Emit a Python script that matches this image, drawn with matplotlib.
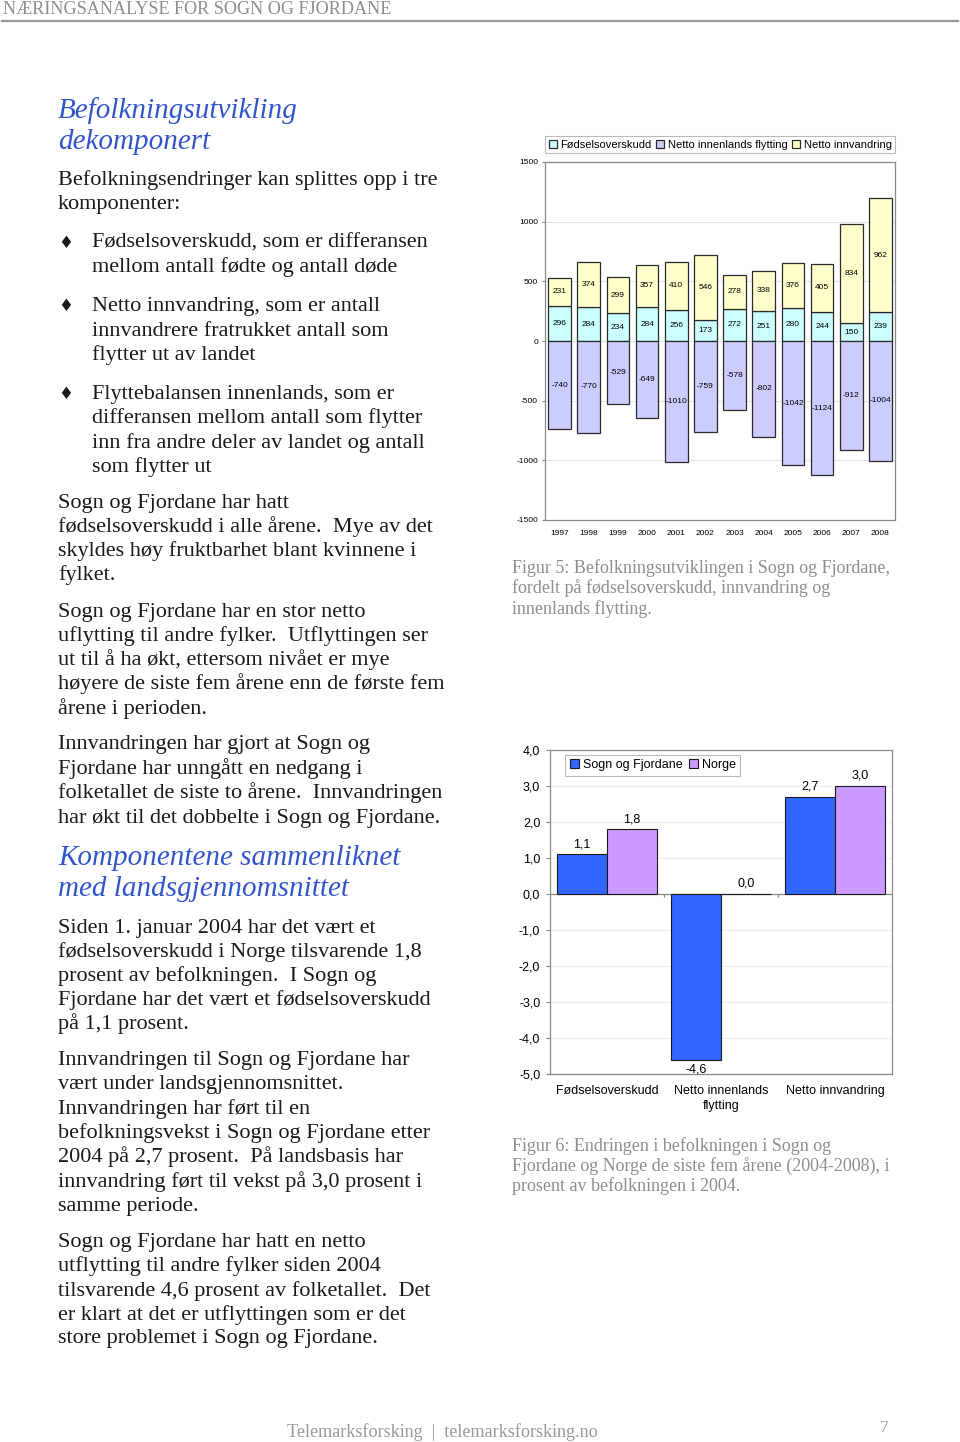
import numpy as np
import matplotlib
matplotlib.use("Agg")
import matplotlib.pyplot as plt

plt.rcParams["font.family"] = ["Liberation Sans", "DejaVu Sans"]

# Figur 5 data
years = ["1997", "1998", "1999", "2000", "2001", "2002",
         "2003", "2004", "2005", "2006", "2007", "2008"]
fodsel = [296, 284, 234, 284, 256, 173, 272, 251, 280, 244, 150, 239]
innvandring = [231, 374, 299, 357, 410, 546, 278, 338, 376, 405, 834, 962]
innenlands = [-740, -770, -529, -649, -1010, -759, -578, -802, -1042, -1124, -912, -1004]

# Figur 6 data
komponenter = ["Fødselsoverskudd", "Netto innenlands\nflytting", "Netto innvandring"]
sogn = [1.1, -4.6, 2.7]
norge = [1.8, 0.0, 3.0]

W, H = 960, 1442
fig = plt.figure(figsize=(W / 100, H / 100), dpi=100)


def fx(x):
    return x / W


def fy(y):
    return 1 - y / H


# ---------- page text ----------
serif = ["Liberation Serif", "DejaVu Serif"]
blue = "#3355cc"
grey = "#8e8e8e"

fig.text(fx(3), fy(9), "NÆRINGSANALYSE FOR SOGN OG FJORDANE", family=serif,
         fontsize=13.1, color=grey, va="center")
fig.add_artist(plt.Line2D([fx(2), fx(958)], [fy(21), fy(21)], color="#9a9a9a", lw=1.6))

left_lines = [
    (108, "Befolkningsutvikling", "h"),
    (139, "dekomponert", "h"),
    (178, "Befolkningsendringer kan splittes opp i tre", "p"),
    (203, "komponenter:", "p"),
    (241, "Fødselsoverskudd, som er differansen", "b"),
    (265, "mellom antall fødte og antall døde", "c"),
    (304, "Netto innvandring, som er antall", "b"),
    (329, "innvandrere fratrukket antall som", "c"),
    (353, "flytter ut av landet", "c"),
    (392, "Flyttebalansen innenlands, som er", "b"),
    (416, "differansen mellom antall som flytter", "c"),
    (441, "inn fra andre deler av landet og antall", "c"),
    (465, "som flytter ut", "c"),
    (501, "Sogn og Fjordane har hatt", "p"),
    (525, "fødselsoverskudd i alle årene.  Mye av det", "p"),
    (549, "skyldes høy fruktbarhet blant kvinnene i", "p"),
    (573, "fylket.", "p"),
    (610, "Sogn og Fjordane har en stor netto", "p"),
    (634, "uflytting til andre fylker.  Utflyttingen ser", "p"),
    (658, "ut til å ha økt, ettersom nivået er mye", "p"),
    (682, "høyere de siste fem årene enn de første fem", "p"),
    (707, "årene i perioden.", "p"),
    (743, "Innvandringen har gjort at Sogn og", "p"),
    (767, "Fjordane har unngått en nedgang i", "p"),
    (791, "folketallet de siste to årene.  Innvandringen", "p"),
    (816, "har økt til det dobbelte i Sogn og Fjordane.", "p"),
    (855, "Komponentene sammenliknet", "h"),
    (886, "med landsgjennomsnittet", "h"),
    (926, "Siden 1. januar 2004 har det vært et", "p"),
    (950, "fødselsoverskudd i Norge tilsvarende 1,8", "p"),
    (974, "prosent av befolkningen.  I Sogn og", "p"),
    (998, "Fjordane har det vært et fødselsoverskudd", "p"),
    (1022, "på 1,1 prosent.", "p"),
    (1059, "Innvandringen til Sogn og Fjordane har", "p"),
    (1083, "vært under landsgjennomsnittet.", "p"),
    (1107, "Innvandringen har ført til en", "p"),
    (1131, "befolkningsvekst i Sogn og Fjordane etter", "p"),
    (1155, "2004 på 2,7 prosent.  På landsbasis har", "p"),
    (1180, "innvandring ført til vekst på 3,0 prosent i", "p"),
    (1204, "samme periode.", "p"),
    (1240, "Sogn og Fjordane har hatt en netto", "p"),
    (1264, "utflytting til andre fylker siden 2004", "p"),
    (1289, "tilsvarende 4,6 prosent av folketallet.  Det", "p"),
    (1313, "er klart at det er utflyttingen som er det", "p"),
    (1337, "store problemet i Sogn og Fjordane.", "p"),
]

for y, txt, kind in left_lines:
    y = y + 2
    if kind == "h":
        fig.text(fx(58), fy(y + 1), txt, family=serif, style="italic", fontsize=21,
                 color=blue, va="center")
    elif kind == "p":
        fig.text(fx(58), fy(y), txt, family=serif, fontsize=16, color="#1a1a1a",
                 va="center")
    else:
        if kind == "b":
            fig.text(fx(66), fy(y), "\u2666", family=["DejaVu Sans"], fontsize=12,
                     color="#1a1a1a", va="center", ha="center")
        fig.text(fx(92), fy(y), txt, family=serif, fontsize=16, color="#1a1a1a",
                 va="center")

cap5 = ["Figur 5: Befolkningsutviklingen i Sogn og Fjordane,",
        "fordelt på fødselsoverskudd, innvandring og",
        "innenlands flytting."]
for i, t in enumerate(cap5):
    fig.text(fx(512), fy(568 + 20.5 * i), t, family=serif, fontsize=13,
             color=grey, va="center")

cap6 = ["Figur 6: Endringen i befolkningen i Sogn og",
        "Fjordane og Norge de siste fem årene (2004-2008), i",
        "prosent av befolkningen i 2004."]
for i, t in enumerate(cap6):
    fig.text(fx(512), fy(1146 + 20 * i), t, family=serif, fontsize=13,
             color=grey, va="center")

fig.text(fx(287), fy(1432), "Telemarksforsking  |  telemarksforsking.no", family=serif,
         fontsize=13.1, color="#9a9a9a", va="center")
fig.text(fx(884), fy(1428), "7", family=serif, fontsize=12.5, color="#9a9a9a",
         va="center", ha="center")

# ---------- Figur 5 ----------
ax1 = fig.add_axes([fx(545), fy(520), (895 - 545) / W, (520 - 162) / H])
x = np.arange(len(years))
bw = 0.78
edge = "#2a2a2a"
b1 = ax1.bar(x, fodsel, bw, color="#ccffff", edgecolor=edge, lw=0.9,
             label="Fødselsoverskudd", zorder=3)
b2 = ax1.bar(x, innenlands, bw, color="#ccccff", edgecolor=edge, lw=0.9,
             label="Netto innenlands flytting", zorder=3)
b3 = ax1.bar(x, innvandring, bw, bottom=fodsel, color="#ffffcc", edgecolor=edge, lw=0.9,
             label="Netto innvandring", zorder=3)

for i in range(len(years)):
    ax1.text(x[i], fodsel[i] / 2, str(fodsel[i]), ha="center", va="center",
             fontsize=6, zorder=4)
    ax1.text(x[i], fodsel[i] + innvandring[i] / 2, str(innvandring[i]), ha="center",
             va="center", fontsize=6, zorder=4)
    ax1.text(x[i], innenlands[i] / 2, str(innenlands[i]), ha="center",
             va="center", fontsize=6, zorder=4)

ax1.set_xlim(-0.5, len(years) - 0.5)
ax1.set_ylim(-1500, 1500)
yt = np.arange(-1500, 1501, 500)
ax1.set_yticks(yt)
ax1.set_yticklabels([str(v) for v in yt], fontsize=6)
ax1.set_xticks(x)
ax1.set_xticklabels(years, fontsize=6)
ax1.tick_params(axis="x", length=0, pad=7)
ax1.tick_params(axis="y", length=2, pad=3, color="#888888")
ax1.grid(axis="y", color="#e4e4e4", lw=0.8, zorder=0)
for s in ax1.spines.values():
    s.set_color("#8a8a8a")
    s.set_linewidth(0.9)
leg1 = ax1.legend(loc="lower right", bbox_to_anchor=(1.0, 1.025), ncol=3, fontsize=8,
                  frameon=True, fancybox=False, edgecolor="#aaaaaa", handlelength=0.75,
                  handleheight=0.75, handletextpad=0.3, columnspacing=0.4,
                  borderpad=0.3, borderaxespad=0)
leg1.get_frame().set_linewidth(0.8)

# ---------- Figur 6 ----------
ax2 = fig.add_axes([fx(550), fy(1074), (892 - 550) / W, (1074 - 750) / H])
x2 = np.arange(len(komponenter))
w2 = 0.44
r1 = ax2.bar(x2 - w2 / 2, sogn, w2, color="#3366ff", edgecolor="#1a1a1a", lw=0.8,
             label="Sogn og Fjordane", zorder=3)
r2 = ax2.bar(x2 + w2 / 2, norge, w2, color="#cc99ff", edgecolor="#1a1a1a", lw=0.8,
             label="Norge", zorder=3)
for bars, vals in ((r1, sogn), (r2, norge)):
    for rect, v in zip(bars, vals):
        lab = f"{v:.1f}".replace(".", ",")
        cx = rect.get_x() + rect.get_width() / 2
        if v < 0:
            ax2.annotate(lab, (cx, v), xytext=(0, -3), textcoords="offset points",
                         ha="center", va="top", fontsize=9)
        else:
            ax2.annotate(lab, (cx, v), xytext=(0, 3), textcoords="offset points",
                         ha="center", va="bottom", fontsize=9)

ax2.set_xlim(-0.5, len(komponenter) - 0.5)
ax2.set_ylim(-5, 4)
yt2 = np.arange(-5, 4.01, 1)
ax2.set_yticks(yt2)
ax2.set_yticklabels([f"{v:.1f}".replace(".", ",") for v in yt2], fontsize=9)
ax2.set_xticks(x2)
ax2.set_xticklabels(komponenter, fontsize=9, linespacing=1.3)
ax2.tick_params(axis="x", length=0, pad=8)
ax2.tick_params(axis="y", length=3, pad=4, color="#888888")
ax2.grid(axis="y", color="#eeeeee", lw=0.8, zorder=0)
ax2.axhline(0, color="#8a8a8a", lw=0.9, zorder=2)
ax2.vlines([0.5, 1.5], -0.08, 0, color="#8a8a8a", lw=0.9, zorder=2)
for s in ax2.spines.values():
    s.set_color("#8a8a8a")
    s.set_linewidth(0.9)
leg2 = ax2.legend(loc="upper left", bbox_to_anchor=(0.045, 0.985), ncol=2, fontsize=9,
                  frameon=True, fancybox=False, edgecolor="#aaaaaa", handlelength=0.75,
                  handleheight=0.75, handletextpad=0.3, columnspacing=0.5,
                  borderpad=0.35, borderaxespad=0)
leg2.get_frame().set_linewidth(0.8)

fig.savefig("out.png", dpi=100)
